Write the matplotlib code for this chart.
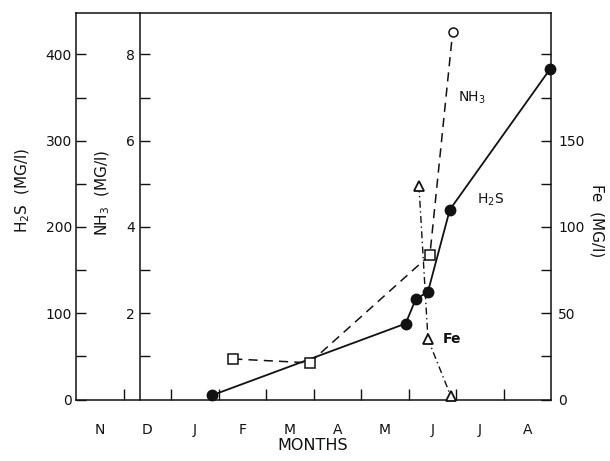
import matplotlib
matplotlib.use("Agg")
import matplotlib.pyplot as plt
from matplotlib.ticker import FixedLocator, FixedFormatter, NullFormatter

plt.rcParams['font.family'] = ['DejaVu Sans']
plt.rcParams['mathtext.default'] = 'regular'

# Month labels (the axis starts on 1 November)
months = ['N', 'D', 'J', 'F', 'M', 'A', 'M', 'J', 'J', 'A']

# Sampling times in months after 1 November, and concentrations (mg/l)
h2s_t = [2.87, 6.94, 7.15, 7.41, 7.87, 9.98]
h2s = [5, 88, 116, 125, 220, 383]

nh3_t = [3.31, 4.92, 7.45, 7.93]
nh3 = [0.94, 0.85, 3.35, 8.52]

fe_t = [7.22, 7.41, 7.89]
fe = [124, 35, 2]

W, H = 610, 461
fig = plt.figure(figsize=(W / 100, H / 100), dpi=100)
left, right, top, bottom = 76, 551, 13, 399.5
ax = fig.add_axes([left / W, 1 - bottom / H, (right - left) / W, (bottom - top) / H])

ink = '#111111'
lw_spine = 1.1

# --- H2S axis (outer left) ---
ax.set_xlim(0, 10)
ax.set_ylim(0, 448)
for s in ax.spines.values():
    s.set_linewidth(lw_spine)
    s.set_color(ink)
ax.spines['right'].set_visible(False)
ax.yaxis.set_major_locator(FixedLocator([0, 100, 200, 300, 400]))
ax.yaxis.set_minor_locator(FixedLocator([50, 150, 250, 350]))
ax.tick_params(axis='y', which='both', direction='in', length=7, width=1,
               labelsize=10, pad=3, colors=ink)

# month boundaries as ticks, month names centred between them
ax.xaxis.set_major_locator(FixedLocator(list(range(1, 10))))
ax.xaxis.set_major_formatter(NullFormatter())
ax.xaxis.set_minor_locator(FixedLocator([i + 0.5 for i in range(10)]))
ax.xaxis.set_minor_formatter(FixedFormatter(months))
ax.tick_params(axis='x', which='major', direction='in', length=8, width=1, colors=ink)
ax.tick_params(axis='x', which='minor', length=0, labelsize=10, pad=17, colors=ink)

ax.plot(h2s_t, h2s, '-', color=ink, lw=1.3, marker='o', markersize=7.5,
        markerfacecolor=ink, markeredgecolor=ink, clip_on=False, zorder=5)

# --- NH3 axis (inner left spine) ---
ax_n = ax.twinx()
ax_n.set_ylim(0, 448 / 50)
for name in ['top', 'bottom', 'right']:
    ax_n.spines[name].set_visible(False)
ax_n.spines['left'].set_visible(True)
ax_n.spines['left'].set_position(('axes', 0.135))
ax_n.spines['left'].set_linewidth(lw_spine)
ax_n.spines['left'].set_color(ink)
ax_n.yaxis.set_ticks_position('left')
ax_n.yaxis.set_major_locator(FixedLocator([2, 4, 6, 8]))
ax_n.yaxis.set_minor_locator(FixedLocator([1, 3, 5, 7]))
ax_n.tick_params(axis='y', which='both', direction='in', length=7, width=1,
                 labelsize=10, pad=4, colors=ink)

nh3_markers = ['s', 's', 's', 'o']
ax_n.plot(nh3_t, nh3, color=ink, lw=1.1, dashes=(6, 4), zorder=4)
for t, v, m in zip(nh3_t, nh3, nh3_markers):
    ax_n.plot([t], [v], marker=m, markersize=6.5, markerfacecolor='white',
              markeredgecolor=ink, markeredgewidth=1.1, zorder=6, clip_on=False)

# --- Fe axis (right) ---
ax_f = ax.twinx()
ax_f.set_ylim(0, 448 / 2)
for name in ['top', 'bottom', 'left']:
    ax_f.spines[name].set_visible(False)
ax_f.spines['right'].set_linewidth(lw_spine)
ax_f.spines['right'].set_color(ink)
ax_f.yaxis.set_major_locator(FixedLocator([0, 50, 100, 150]))
ax_f.yaxis.set_minor_locator(FixedLocator([25, 75, 125, 175, 200]))
ax_f.tick_params(axis='y', which='both', direction='in', length=7, width=1,
                 labelsize=10, pad=5, colors=ink)

ax_f.plot(fe_t, fe, color=ink, lw=1.0, dashes=(5, 2.5, 1, 2.5), zorder=4)
ax_f.plot(fe_t, fe, linestyle='none', marker='^', markersize=7,
          markerfacecolor='white', markeredgecolor=ink, markeredgewidth=1.3,
          zorder=6, clip_on=False)

# --- series labels ---
ax_n.text(8.05, 7.0, 'NH$_3$', fontsize=10, color=ink, ha='left', va='center')
ax.text(8.45, 232, 'H$_2$S', fontsize=10, color=ink, ha='left', va='center')
ax_f.text(7.73, 35, 'Fe', fontsize=10, color=ink, ha='left', va='center',
          fontweight='bold')

# --- axis titles ---
fig.text(23 / W, 1 - 190 / H, 'H$_2$S  (MG/l)', rotation=90, fontsize=11,
         ha='center', va='center', color=ink)
fig.text(103 / W, 1 - 193 / H, 'NH$_3$  (MG/l)', rotation=90, fontsize=11,
         ha='center', va='center', color=ink)
fig.text(597 / W, 1 - 221 / H, 'Fe  (MG/l)', rotation=-90, fontsize=11,
         ha='center', va='center', color=ink)
fig.text(313 / W, 1 - 445 / H, 'MONTHS', fontsize=11.5, ha='center',
         va='center', color=ink)

fig.savefig('out.png', dpi=100, facecolor='white')
